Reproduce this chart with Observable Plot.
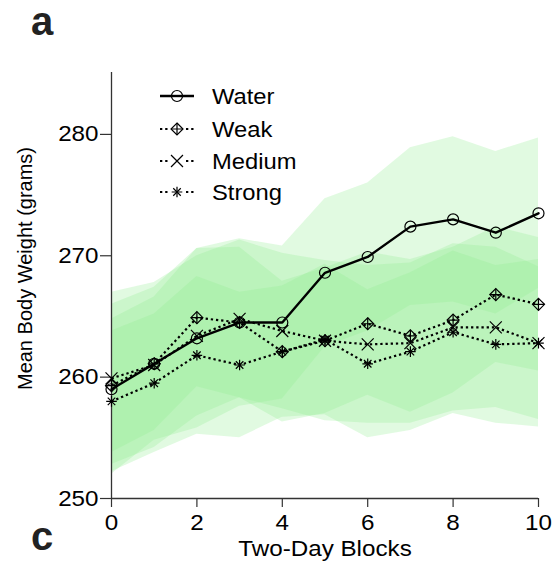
<!DOCTYPE html>
<html><head><meta charset="utf-8">
<script src="https://cdn.jsdelivr.net/npm/d3@7"></script>
<script src="https://cdn.jsdelivr.net/npm/@observablehq/plot@0.6"></script>
<style>
html,body{margin:0;padding:0;background:#fff;}
#wrap{position:relative;width:555px;height:561px;overflow:hidden;}
#overlay{position:absolute;left:0;top:0;pointer-events:none;}
</style></head><body><div id="wrap"></div>
<script>
// ---- data ----
const blocks = [0,1,2,3,4,5,6,7,8,9,10];
const groups = ["Water","Weak","Medium","Strong"];
const waterMean  = [259.0, 261.1, 263.2, 264.5, 264.5, 268.6, 269.9, 272.4, 273.0, 271.9, 273.5];
const weakMean   = [259.3, 261.1, 264.9, 264.5, 262.1, 263.0, 264.4, 263.4, 264.7, 266.8, 266.0];
const mediumMean = [259.9, 261.0, 263.4, 264.8, 263.8, 263.0, 262.7, 262.8, 264.1, 264.1, 262.8];
const strongMean = [258.0, 259.5, 261.8, 261.0, 262.1, 263.1, 261.1, 262.1, 263.7, 262.7, 262.8];
const waterSD  = [7.0, 6.3, 7.4, 6.9, 6.3, 6.1, 6.1, 6.5, 6.8, 6.7, 6.2];
const weakSD   = [5.5, 5.5, 5.7, 6.2, 5.8, 6.0, 5.9, 6.3, 6.0, 5.6, 5.5];
const mediumSD = [7.1, 6.8, 6.6, 6.5, 6.4, 6.6, 6.5, 6.6, 6.9, 6.6, 6.3];
const strongSD = [5.8, 5.7, 6.5, 6.0, 5.4, 6.2, 6.1, 6.5, 6.7, 6.5, 6.9];
const xTicks = [0,2,4,6,8,10];
const yTicks = [250,260,270,280];
const xLabel = "Two-Day Blocks";
const yLabel = "Mean Body Weight (grams)";

const means = {Water: waterMean, Weak: weakMean, Medium: mediumMean, Strong: strongMean};
const sds = {Water: waterSD, Weak: weakSD, Medium: mediumSD, Strong: strongSD};
const rows = groups.flatMap(g => blocks.map((b, i) => ({
  group: g, block: b, mean: means[g][i], lo: means[g][i] - sds[g][i], hi: means[g][i] + sds[g][i]
})));
const byGroup = g => rows.filter(r => r.group === g);

const FONT = "'Liberation Sans', Arial, Helvetica, sans-serif";
const dotted = {stroke: "black", strokeWidth: 2.2, strokeDasharray: "2.3,2.9", strokeLinecap: "butt"};
const sym = {x: "block", y: "mean", stroke: "black", fill: "none", strokeWidth: 1.2};

const chart = Plot.plot({
  width: 555, height: 561,
  marginLeft: 111, marginRight: 17, marginTop: 72, marginBottom: 63,
  x: {domain: [0, 10]},
  y: {domain: [250, 285.1]},
  style: {fontFamily: FONT, fontSize: "22px", background: "white", color: "black", overflow: "visible"},
  marks: [
    Plot.areaY(rows, {x: "block", y1: "lo", y2: "hi", z: "group", fill: "#90ee90", fillOpacity: 0.27}),
    Plot.ruleX([0], {stroke: "#333", strokeWidth: 1.3}),
    Plot.ruleY([250], {stroke: "#333", strokeWidth: 1.3}),
    Plot.axisY({ticks: yTicks, tickSize: 11, tickPadding: 2, label: null, fontSize: 22, stroke: "#333", strokeWidth: 1.2}),
    Plot.axisX({ticks: xTicks, tickSize: 9, tickPadding: 7, label: null, fontSize: 22, stroke: "#333", strokeWidth: 1.2}),
    Plot.line(byGroup("Weak"), {x: "block", y: "mean", ...dotted}),
    Plot.line(byGroup("Medium"), {x: "block", y: "mean", ...dotted}),
    Plot.line(byGroup("Strong"), {x: "block", y: "mean", ...dotted}),
    Plot.line(byGroup("Water"), {x: "block", y: "mean", stroke: "black", strokeWidth: 2.4}),
    Plot.dot(byGroup("Water"), {...sym, symbol: "circle", r: 5.5}),
    Plot.dot(byGroup("Weak"), {...sym, symbol: "diamond2", r: 5.4}),
    Plot.dot(byGroup("Weak"), {...sym, symbol: "plus", r: 3.95}),
    Plot.dot(byGroup("Medium"), {...sym, symbol: "times", r: 5.5}),
    Plot.dot(byGroup("Strong"), {...sym, symbol: "plus", r: 3.5}),
    Plot.dot(byGroup("Strong"), {...sym, symbol: "times", r: 3.5}),
    Plot.text([xLabel], {text: d => d, frameAnchor: "bottom", textAnchor: "middle", lineAnchor: "middle", dy: 50, fontSize: 22, fill: "black"}),
    Plot.text([yLabel], {text: d => d, frameAnchor: "left", textAnchor: "middle", lineAnchor: "middle", rotate: -90, dx: -86, dy: -17, fontSize: 20, fill: "black"})
  ]
});
const wrap = document.getElementById("wrap");
wrap.appendChild(chart);

// ---- legend + panel letters overlay ----
const ov = d3.select(wrap).append("svg").attr("id", "overlay").attr("width", 555).attr("height", 561)
  .style("font-family", FONT);
const legendY = [96, 129, 161, 192];
const symPath = (type, r) => d3.symbol(type, Math.PI * r * r)();
groups.forEach((g, i) => {
  const y = legendY[i];
  const row = ov.append("g");
  const ln = row.append("line").attr("x1", 160).attr("x2", 194).attr("y1", y).attr("y2", y).attr("stroke", "black");
  if (g === "Water") ln.attr("stroke-width", 2.4);
  else ln.attr("stroke-width", 2.2).attr("stroke-dasharray", "2.3,2.9");
  const parts = {
    Water: [[d3.symbolCircle, 5.5]],
    Weak: [[d3.symbolDiamond2, 5.4], [d3.symbolPlus, 3.95]],
    Medium: [[d3.symbolTimes, 5.5]],
    Strong: [[d3.symbolPlus, 3.5], [d3.symbolTimes, 3.5]]
  }[g];
  if (g !== "Water") {
    row.append("rect").attr("x", 170).attr("y", y - 7).attr("width", 14).attr("height", 14).attr("fill", "white");
  } else {
    row.append("circle").attr("cx", 177).attr("cy", y).attr("r", 5.5).attr("fill", "white");
  }
  parts.forEach(([t, r]) => row.append("path").attr("d", symPath(t, r))
    .attr("transform", `translate(177,${y})`).attr("fill", "none").attr("stroke", "black").attr("stroke-width", 1.2));
  if (g === "Water") row.append("line").attr("x1", 171).attr("x2", 183).attr("y1", y).attr("y2", y).attr("stroke", "black").attr("stroke-width", 2.4);
  row.append("text").attr("class", "stretch").attr("x", 212).attr("y", y + 7.6).attr("font-size", 22).text(g);
});
ov.append("text").attr("x", 31).attr("y", 35).attr("font-size", 40).attr("font-weight", "bold").attr("fill", "#222").text("a");
ov.append("text").attr("x", 31).attr("y", 550).attr("font-size", 40).attr("font-weight", "bold").attr("fill", "#222").text("c");

// ---- slight horizontal widening of horizontal texts ----
function stretch(nodes, f) {
  nodes.forEach(t => {
    const tr = t.getAttribute("transform") || "";
    if (/rotate/.test(tr)) return;
    const L = t.getComputedTextLength();
    if (L > 0) { t.setAttribute("textLength", (L * f).toFixed(2)); t.setAttribute("lengthAdjust", "spacingAndGlyphs"); }
  });
}
stretch(chart.querySelectorAll("text"), 1.1);
stretch(document.querySelectorAll("#overlay text.stretch"), 1.08);
</script></body></html>
